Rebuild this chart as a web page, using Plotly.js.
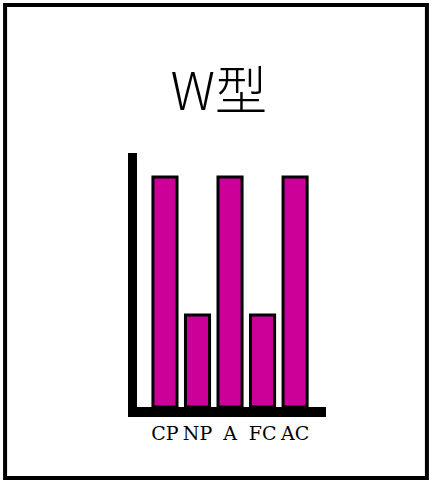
<!DOCTYPE html>
<html>
<head>
<meta charset="utf-8">
<script src="https://cdn.plot.ly/plotly-3.0.1.min.js"></script>
<style>
  html, body { margin: 0; padding: 0; background: #fff; }
  #chart { width: 435px; height: 486px; }
</style>
</head>
<body>
<div id="chart"></div>
<script>
var categories = ["CP", "NP", "A", "FC", "AC"];
var values = [5, 2, 5, 2, 5];
var chartTitle = "W型";

var data = [
  {
    type: "bar",
    x: categories,
    y: values,
    marker: { color: "#cc0099", line: { color: "#000", width: 3 } },
    hoverinfo: "skip"
  }
];

var layout = {
  width: 435,
  height: 486,
  margin: { l: 137, r: 109, t: 153, b: 79 },
  paper_bgcolor: "#fff",
  plot_bgcolor: "#fff",
  showlegend: false,
  bargap: 0.26,
  title: {
    text: chartTitle,
    x: 0.503, xanchor: "center",
    y: 0.812, yanchor: "middle",
    font: { family: "Noto Sans CJK JP", size: 52, weight: 300, color: "#000" }
  },
  xaxis: {
    type: "category",
    range: [-0.86, 4.95],
    showline: true, linecolor: "#000", linewidth: 10,
    showgrid: false, zeroline: false,
    ticks: "",
    tickfont: { family: "DejaVu Serif", size: 19, color: "#000" },
    fixedrange: true
  },
  yaxis: {
    range: [0, 5.52],
    showline: true, linecolor: "#000", linewidth: 9,
    showgrid: false, zeroline: false,
    showticklabels: false, ticks: "",
    fixedrange: true
  },
  shapes: [
    // outer frame around the whole figure
    { type: "rect", xref: "paper", yref: "paper",
      x0: -0.698, x1: 1.534, y0: -0.28, y1: 1.583,
      line: { color: "#000", width: 4 }, fillcolor: "rgba(0,0,0,0)" }
  ]
};

Plotly.newPlot("chart", data, layout, { displayModeBar: false, staticPlot: true });
</script>
</body>
</html>
